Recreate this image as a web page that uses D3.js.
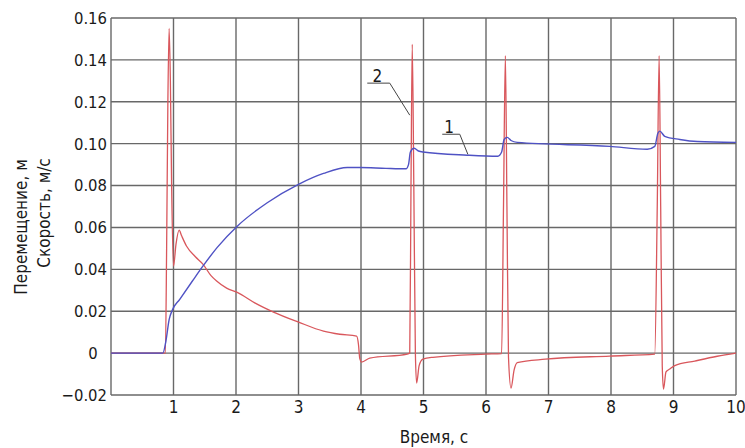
<!DOCTYPE html>
<html><head><meta charset="utf-8">
<script src="https://cdn.jsdelivr.net/npm/d3@7"></script>
<style>
body{margin:0;background:#fff;}
text{font-family:"DejaVu Sans Condensed","Liberation Sans Narrow",sans-serif;fill:#1a1a1a;}
</style></head>
<body><svg id="c" width="745" height="448"></svg>
<script>
// ---- data ----
const xTicks = [1,2,3,4,5,6,7,8,9,10];
const yTicks = [-0.02,0,0.02,0.04,0.06,0.08,0.10,0.12,0.14,0.16];
const yTickLabels = ["\u22120.02","0","0.02","0.04","0.06","0.08","0.10","0.12","0.14","0.16"];

// series 1 (blue): перемещение
const blueT = [0,0.83,0.88,0.93,0.98,1.1,1.3,1.47,1.7,2.02,2.5,3.0,3.4,3.78,3.98,4.4,4.72,4.76,4.79,4.85,4.92,4.99,5.7,6.19,6.25,6.29,6.34,6.4,6.5,7.98,8.58,8.7,8.75,8.78,8.86,9.1,9.38,10];
const blueV = [0,0,0.006,0.016,0.0205,0.0257,0.0343,0.0415,0.0505,0.0606,0.0718,0.0806,0.0858,0.0886,0.0886,0.0882,0.088,0.09,0.096,0.0978,0.0965,0.096,0.0945,0.094,0.096,0.102,0.103,0.1015,0.1006,0.0987,0.0973,0.0987,0.105,0.106,0.1035,0.102,0.101,0.1006];

// series 2 (red): скорость
const redT = [0,0.87,0.89,0.91,0.93,0.95,0.97,1.0,1.04,1.09,1.13,1.21,1.35,1.47,1.6,1.69,1.85,2.02,2.3,2.6,3.0,3.4,3.66,3.93,3.96,3.98,4.01,4.14,4.74,4.78,4.80,4.82,4.845,4.87,4.89,4.93,4.99,5.15,6.0,6.25,6.28,6.31,6.335,6.36,6.40,6.45,6.5,6.95,7.98,8.7,8.74,8.77,8.795,8.82,8.84,8.88,8.94,9.02,9.34,9.7,10];
const redV = [0,0,0.05,0.12,0.155,0.13,0.08,0.0415,0.052,0.0587,0.056,0.051,0.046,0.0425,0.037,0.0344,0.031,0.029,0.024,0.0196,0.0148,0.0105,0.009,0.0081,0.004,-0.0025,-0.0043,-0.0024,-0.0005,0,0.08,0.1474,0.08,0,-0.0143,-0.006,-0.0029,-0.002,-0.0005,-0.0002,0.07,0.142,0.07,-0.002,-0.0167,-0.008,-0.0045,-0.0029,-0.0014,-0.0005,0.07,0.142,0.07,-0.006,-0.0172,-0.009,-0.0076,-0.006,-0.0038,-0.0015,0];

// annotations (data coords)
const annLabels = ["2","1"];
const annText = [[4.26,0.1325],[5.41,0.108]];
const annLine = [[[4.10,0.1289],[4.46,0.1289],[4.78,0.1136]],[[5.30,0.1045],[5.58,0.1045],[5.71,0.0949]]];

const xTitle = "Время, с";
const yTitle1 = "Перемещение, м";
const yTitle2 = "Скорость, м/с";

// ---- drawing ----
const svg = d3.select("#c");
const L=111, T=18, R=736, B=395;
const x = d3.scaleLinear().domain([0,10]).range([L,R]);
const y = d3.scaleLinear().domain([-0.02,0.16]).range([B,T]);

const grid = svg.append("g").attr("stroke","#686868").attr("stroke-width",1.4);
grid.selectAll("line.v").data([0].concat(xTicks)).join("line")
  .attr("x1",d=>x(d)).attr("x2",d=>x(d)).attr("y1",T).attr("y2",B);
grid.selectAll("line.h").data(yTicks).join("line").attr("class","h")
  .attr("x1",L).attr("x2",R).attr("y1",d=>y(d)).attr("y2",d=>y(d));

// x tick labels
svg.append("g").selectAll("text").data(xTicks).join("text")
  .attr("x",d=>x(d)).attr("y",B+18).attr("text-anchor","middle")
  .attr("font-size",17).text(d=>d);
// y tick labels
svg.append("g").selectAll("text").data(yTicks).join("text")
  .attr("x",(d,i)=>d===0?93:107).attr("y",d=>y(d)).attr("dy","0.36em")
  .attr("text-anchor",d=>d===0?"middle":"end")
  .attr("font-size",16.5).text((d,i)=>yTickLabels[i]);

// titles
svg.append("text").attr("x",434).attr("y",443).attr("text-anchor","middle")
  .attr("font-size",17).text(xTitle);
svg.append("text").attr("transform","translate(27,227) rotate(-90)").attr("text-anchor","middle")
  .attr("font-size",17).text(yTitle1);
svg.append("text").attr("transform","translate(50,213) rotate(-90)").attr("text-anchor","middle")
  .attr("font-size",17).text(yTitle2);

const line = d3.line().x(d=>x(d[0])).y(d=>y(d[1])).curve(d3.curveMonotoneX);
const redData = redT.map((t,i)=>[t,redV[i]]);
const blueData = blueT.map((t,i)=>[t,blueV[i]]);
svg.append("path").datum(redData).attr("d",line).attr("fill","none")
  .attr("stroke","#d9575c").attr("stroke-width",1.3);
svg.append("path").datum(blueData).attr("d",line).attr("fill","none")
  .attr("stroke","#4f52c4").attr("stroke-width",1.4);

// annotations
const aline = d3.line().x(d=>x(d[0])).y(d=>y(d[1]));
svg.append("g").selectAll("path").data(annLine).join("path")
  .attr("d",aline).attr("fill","none").attr("stroke","#444").attr("stroke-width",1);
svg.append("g").selectAll("text").data(annLabels).join("text")
  .attr("x",(d,i)=>x(annText[i][0])).attr("y",(d,i)=>y(annText[i][1])).attr("dy","0.36em")
  .attr("text-anchor","middle").attr("font-size",17).text(d=>d);
</script></body></html>
